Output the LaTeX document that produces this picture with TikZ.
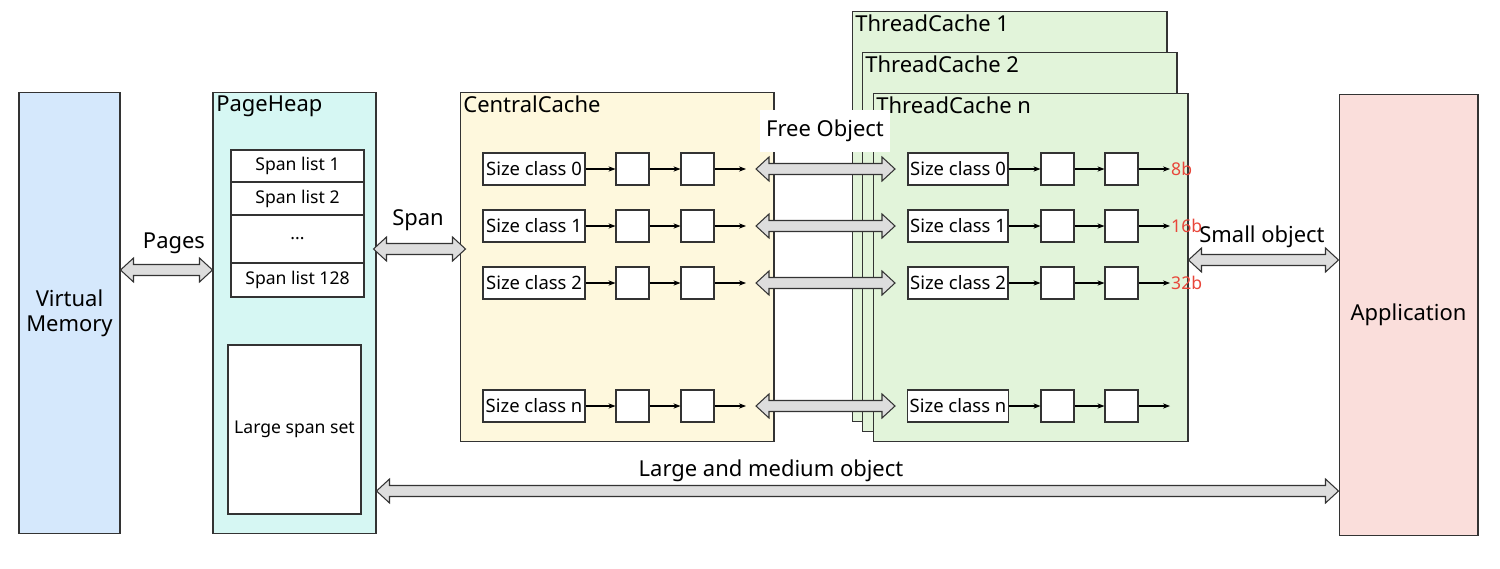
\documentclass[tikz,border=0pt]{standalone}
\usepackage{fontspec}
\setmainfont{Noto Sans}
\usetikzlibrary{arrows.meta,calc}

\definecolor{vmblue}{HTML}{D5E8FC}
\definecolor{phcyan}{HTML}{D6F7F3}
\definecolor{ccyellow}{HTML}{FEF8DD}
\definecolor{tcgreen}{HTML}{E2F4DA}
\definecolor{appred}{HTML}{FADEDB}
\definecolor{arrowgray}{HTML}{DDDDDD}
\definecolor{sizered}{HTML}{E8463A}

\newcommand{\fatarrow}[2]{%
	\filldraw[fat] let \p1=#1, \p2=#2 in (\x1,\y1) -- (\x1+0.26cm,\y1+0.24cm) -- (\x1+0.26cm,\y1+0.11cm) -- (\x2-0.26cm,\y1+0.11cm) -- (\x2-0.26cm,\y1+0.24cm) -- (\x2,\y1) -- (\x2-0.26cm,\y1-0.24cm) -- (\x2-0.26cm,\y1-0.11cm) -- (\x1+0.26cm,\y1-0.11cm) -- (\x1+0.26cm,\y1-0.24cm) -- cycle;}

\begin{document}
\begin{tikzpicture}[x=0.02cm,y=-0.02cm,
		box/.style={draw=black!80,line width=0.6pt,inner sep=1pt},
		title/.style={anchor=north west,inner sep=2pt,font=\fontsize{12.5}{14}\selectfont},
		cell/.style={box,fill=white,minimum height=0.64cm,font=\fontsize{10.5}{12}\selectfont},
		link/.style={-{Stealth[length=4pt,width=3pt]},line width=0.6pt},
		fat/.style={draw=black!80,fill=arrowgray,line width=0.6pt},
		lab/.style={font=\fontsize{12.5}{14}\selectfont}]
		\useasboundingbox (0,0) rectangle (1500,568);
		\node[box,fill=vmblue,minimum width=2.02cm,minimum height=8.84cm,align=center,lab] (vm) at (69.5,313) {Virtual\\Memory};
		\node[box,fill=phcyan,minimum width=3.26cm,minimum height=8.84cm] (ph) at (294.5,313) {};
		\node[title] at (ph.north west) {PageHeap};
		\node[cell,minimum width=2.66cm,minimum height=0.64cm,font=\fontsize{10}{12}\selectfont] (sl1) at (297.5,166) {Span list 1};
		\node[cell,minimum width=2.66cm,minimum height=0.66cm,font=\fontsize{10}{12}\selectfont] (sl2) at (297.5,198.5) {Span list 2};
		\node[cell,minimum width=2.66cm,minimum height=0.96cm,font=\fontsize{10}{12}\selectfont] (sl3) at (297.5,239) {...};
		\node[cell,minimum width=2.66cm,minimum height=0.68cm,font=\fontsize{10}{12}\selectfont] (sl4) at (297.5,280) {Span list 128};
		\node[cell,minimum width=2.66cm,minimum height=3.38cm,font=\fontsize{10}{12}\selectfont] (lss) at (294.5,429.5) {Large span set};
		\node[box,fill=ccyellow,minimum width=6.28cm,minimum height=7cm] (cc) at (617,267) {};
		\node[title] at (cc.north west) {CentralCache};
		\node[box,fill=tcgreen,minimum width=6.3cm,minimum height=8.22cm] (tc1) at (1009.5,216.5) {};
		\node[title] at (tc1.north west) {ThreadCache 1};
		\node[box,fill=tcgreen,minimum width=6.3cm,minimum height=7.6cm] (tc2) at (1019.5,242) {};
		\node[title] at (tc2.north west) {ThreadCache 2};
		\node[box,fill=tcgreen,minimum width=6.3cm,minimum height=6.98cm] (tcn) at (1030.5,267.5) {};
		\node[title] at (tcn.north west) {ThreadCache n};
		\node[box,fill=appred,minimum width=2.78cm,minimum height=8.84cm,lab] (app) at (1408.5,315) {Application};
		\foreach \yy/\i in {169/0,226/1,283/2,406/n} {
			\node[cell,minimum width=2.04cm] (cs\i) at (534,\yy) {Size class \i};
			\node[cell,minimum width=0.66cm] (ca\i) at (632.5,\yy) {};
			\node[cell,minimum width=0.66cm] (cb\i) at (697.5,\yy) {};
			\coordinate (ce\i) at (746,\yy);
			\draw[link] (cs\i) -- (ca\i);
			\draw[link] (ca\i) -- (cb\i);
			\draw[link] (cb\i) -- (ce\i);
			\node[cell,minimum width=2.0cm] (ts\i) at (958,\yy) {Size class \i};
			\node[cell,minimum width=0.66cm] (ta\i) at (1057.5,\yy) {};
			\node[cell,minimum width=0.66cm] (tb\i) at (1121.5,\yy) {};
			\coordinate (te\i) at (1170,\yy);
			\draw[link] (ts\i) -- (ta\i);
			\draw[link] (ta\i) -- (tb\i);
			\draw[link] (tb\i) -- (te\i);
			\coordinate (fl\i) at (756,\yy);
			\coordinate (fr\i) at (895,\yy);
			\fatarrow{(fl\i)}{(fr\i)}
		}
		\foreach \i/\s in {0/8b,1/16b,2/32b}
			\node[anchor=west,inner sep=0.5pt,text=sizered,font=\fontsize{10}{11}\selectfont] at (te\i) {\s};
		\node[fill=white,minimum width=2.52cm,minimum height=0.84cm,lab] (fo) at (825,131) {Free Object};
		\fatarrow{(vm.east |- 0,270)}{(ph.west |- 0,270)}
		\node[lab] at (174,243) {Pages};
		\fatarrow{($(ph.east |- 0,249)+(-3,0)$)}{($(cc.west |- 0,249)+(6,0)$)}
		\node[lab] at (418,220) {Span};
		\fatarrow{(tcn.east |- 0,260)}{(app.west |- 0,260)}
		\node[lab] at (1262,237) {Small object};
		\fatarrow{(ph.east |- 0,491)}{(app.west |- 0,491)}
		\node[lab] at (771,471) {Large and medium object};
	\end{tikzpicture}
\end{document}
